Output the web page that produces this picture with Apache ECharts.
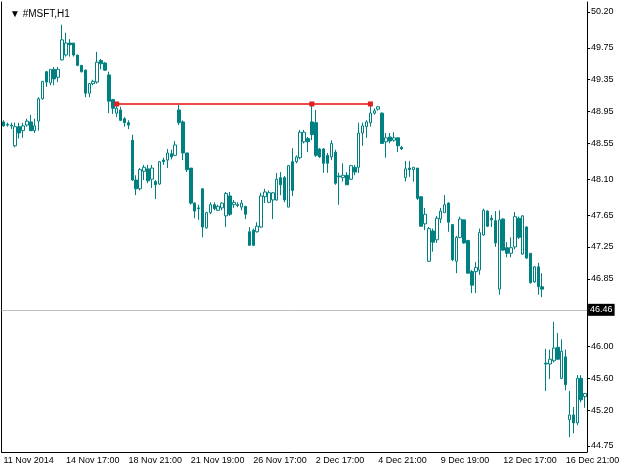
<!DOCTYPE html>
<html><head><meta charset="utf-8">
<script src="https://cdn.jsdelivr.net/npm/echarts@6/dist/echarts.min.js"></script>
<style>html,body{margin:0;padding:0;background:#fff}#c{width:625px;height:469px}</style>
</head><body><div id="c"></div>
<script>
// Hourly OHLC of #MSFT (H1)
const opens = [
48.82,48.79,48.78,48.52,48.76,48.71,48.78,48.82,48.71,48.83,
49.11,49.45,49.31,49.48,49.38,49.60,49.66,49.81,49.81,49.66,
49.53,49.47,49.18,49.30,49.32,49.59,49.56,49.41,49.10,48.93,
48.97,48.86,48.81,48.59,48.09,47.98,48.20,48.23,48.10,48.07,
48.04,48.34,48.34,48.42,48.40,48.97,48.82,48.43,48.24,47.80,
47.74,47.98,47.49,47.68,47.78,47.71,47.74,47.64,47.89,47.78,
47.78,47.75,47.76,47.44,47.46,47.44,47.50,47.88,47.81,47.84,
47.84,48.12,48.12,47.75,48.32,48.32,48.37,48.57,48.61,48.82,
48.81,48.48,48.48,48.40,48.38,48.44,48.14,48.12,48.15,48.10,
48.25,48.25,48.68,48.76,48.81,48.93,48.98,48.93,48.57,48.63,
48.59,48.62,48.50,48.12,48.24,48.22,48.24,47.88,47.54,47.07,
47.45,47.34,47.60,47.68,47.80,47.53,47.07,47.37,47.59,47.33,
46.94,46.94,46.96,47.40,47.70,47.61,47.58,46.72,47.60,47.24,
47.17,47.25,47.61,47.16,47.50,47.17,46.81,47.00,46.75,45.79,
45.78,45.82,45.99,45.60,45.87,45.08,45.14,45.04,45.60,45.37];
const closes = [
48.77,48.78,48.77,48.76,48.68,48.77,48.83,48.71,48.77,49.11,
49.33,49.32,49.48,49.36,49.48,49.85,49.81,49.79,49.66,49.53,
49.45,49.18,49.30,49.33,49.57,49.55,49.47,49.08,48.99,48.99,
48.84,48.81,48.78,48.09,47.98,48.22,48.25,48.08,48.24,48.03,
48.32,48.32,48.43,48.38,48.53,48.81,48.43,48.22,47.80,47.70,
47.73,47.50,47.68,47.78,47.73,47.76,47.80,47.92,47.66,47.81,
47.77,47.80,47.66,47.27,47.27,47.51,47.89,47.94,47.93,47.93,
48.10,48.03,47.84,48.27,47.96,48.38,48.69,48.69,48.57,48.66,
48.40,48.38,48.30,48.30,48.55,48.05,48.13,48.15,48.03,48.27,
48.19,48.68,48.77,48.82,48.93,48.96,49.01,48.55,48.62,48.58,
48.62,48.52,48.48,48.23,48.22,48.25,47.86,47.51,47.66,47.48,
47.31,47.61,47.70,47.78,47.56,47.09,47.37,47.60,47.30,46.92,
46.77,46.99,47.43,47.71,47.51,47.59,47.30,47.59,47.21,47.17,
47.24,47.63,47.37,47.64,47.11,46.80,47.00,46.75,46.72,45.78,
45.84,45.98,45.84,45.94,45.52,45.14,45.04,45.60,45.33,45.41];
const lows = [
48.76,48.76,48.73,48.50,48.61,48.62,48.76,48.71,48.68,48.71,
49.10,49.26,49.28,49.28,49.32,49.59,49.64,49.64,49.64,49.52,
49.44,49.13,49.13,49.28,49.30,49.48,49.46,48.93,48.92,48.88,
48.83,48.76,48.73,48.08,47.90,47.96,48.09,48.05,47.99,47.85,
48.03,48.28,48.24,48.35,48.39,48.78,48.34,48.19,47.78,47.61,
47.59,47.37,47.48,47.66,47.71,47.70,47.71,47.50,47.64,47.74,
47.75,47.71,47.60,47.27,47.26,47.43,47.49,47.80,47.80,47.60,
47.83,47.90,47.81,47.75,47.89,48.30,48.35,48.55,48.44,48.59,
48.38,48.37,48.18,48.18,48.34,48.03,47.78,48.07,48.03,48.09,
48.15,48.18,48.52,48.62,48.76,48.91,48.96,48.55,48.37,48.55,
48.57,48.44,48.47,48.07,48.13,48.07,47.84,47.50,47.46,47.06,
47.19,47.30,47.55,47.68,47.44,47.07,46.92,47.36,47.29,46.92,
46.67,46.67,46.90,47.39,47.50,47.50,47.25,46.65,47.20,47.12,
47.12,47.22,47.35,47.15,47.10,46.79,46.80,46.65,46.62,45.44,
45.59,45.80,45.83,45.59,45.45,44.86,44.91,45.01,45.30,45.23];
const highs = [
48.84,48.81,48.81,48.81,48.81,48.81,48.86,48.91,48.86,49.13,
49.33,49.46,49.48,49.51,49.51,50.04,49.94,49.86,49.81,49.66,
49.53,49.48,49.31,49.35,49.70,49.61,49.57,49.45,49.11,49.05,
49.01,48.88,48.84,48.66,48.15,48.24,48.28,48.28,48.28,48.09,
48.33,48.37,48.48,48.47,48.58,49.05,48.84,48.43,48.24,47.81,
47.78,47.98,47.69,47.81,47.81,47.78,47.81,47.94,47.94,47.84,
47.81,47.84,47.76,47.50,47.48,47.56,47.93,47.98,47.96,47.94,
48.18,48.19,48.14,48.28,48.49,48.40,48.72,48.72,48.63,49.05,
48.97,48.49,48.49,48.43,48.59,48.47,48.18,48.30,48.19,48.28,
48.28,48.81,48.81,48.84,49.05,48.99,49.02,48.94,48.68,48.68,
48.69,48.62,48.52,48.33,48.33,48.25,48.24,47.89,47.74,47.50,
47.48,47.64,47.74,47.90,47.81,47.53,47.39,47.63,47.59,47.34,
46.96,47.06,47.48,47.73,47.71,47.65,47.70,47.71,47.61,47.31,
47.37,47.69,47.63,47.65,47.51,47.17,47.01,47.05,46.92,45.97,
45.96,46.31,46.17,46.09,45.96,45.44,45.24,45.64,45.64,45.41];

const tickLabels = ['11 Nov 2014','14 Nov 17:00','18 Nov 21:00','21 Nov 19:00','26 Nov 17:00',
                    '2 Dec 17:00','4 Dec 21:00','9 Dec 19:00','12 Dec 17:00','16 Dec 21:00'];
const labelEvery = 16;
const priceTicks = [50.20,49.75,49.35,48.95,48.55,48.10,47.65,47.25,46.85,46.45,46.00,45.60,45.20,44.75];
const currentPrice = 46.46;
const levelBars = [29, 79, 94];
const levelPrice = 49.045;
const yMin = 44.6747, yMax = 50.3256;

const categories = opens.map((_, i) => String(i));
const candles = opens.map((o, i) => [o, closes[i], lows[i], highs[i]]);
const font = '"Liberation Sans", Arial, sans-serif';
const teal = '#008080';

const chart = echarts.init(document.getElementById('c'), null, {renderer: 'canvas'});
chart.setOption({
  animation: false,
  backgroundColor: '#fff',
  title: {
    text: '▼ #MSFT,H1', left: 5, top: 4,
    textStyle: {fontFamily: font, fontSize: 10, fontWeight: 'normal', color: '#000'}
  },
  grid: {left: 1.5, top: 2, width: 585.6, height: 450},
  xAxis: {
    type: 'category', data: categories, boundaryGap: true,
    axisLine: {lineStyle: {color: '#000', width: 1}},
    axisTick: {alignWithLabel: true, interval: labelEvery - 1, length: 4, lineStyle: {color: '#000'}},
    axisLabel: {
      interval: labelEvery - 1, align: 'left', margin: 4,
      fontFamily: font, fontSize: 9, color: '#000',
      formatter: (v) => { const k = Number(v) / labelEvery; return tickLabels[k] !== undefined ? tickLabels[k] : ''; }
    },
    splitLine: {show: false}
  },
  yAxis: [{
    type: 'value', position: 'right', min: yMin, max: yMax,
    axisLine: {show: true, lineStyle: {color: '#000', width: 1}},
    axisTick: {show: true, length: 3, customValues: priceTicks, lineStyle: {color: '#000'}},
    axisLabel: {customValues: priceTicks, margin: 4, formatter: (v) => v.toFixed(2),
      fontFamily: font, fontSize: 9, color: '#000'},
    splitLine: {show: false}
  }, {
    type: 'value', position: 'left', min: yMin, max: yMax,
    axisLine: {show: true, lineStyle: {color: '#000', width: 1}},
    axisTick: {show: false}, axisLabel: {show: false}, splitLine: {show: false}
  }],
  series: [{
    type: 'candlestick', data: candles, yAxisIndex: 0, barWidth: 3,
    itemStyle: {color: '#ffffff', color0: teal, borderColor: teal, borderColor0: teal, borderWidth: 1},
    markLine: {
      silent: true, symbol: ['none', 'none'], animation: false,
      lineStyle: {color: '#c0c0c0', width: 1, type: 'solid'},
      label: {position: 'end', distance: 1, formatter: currentPrice.toFixed(2),
        backgroundColor: '#000', color: '#fff', fontFamily: font, fontSize: 9, padding: [2, 2, 1, 2]},
      data: [{yAxis: currentPrice}]
    }
  }, {
    type: 'line', yAxisIndex: 0, z: 5,
    data: levelBars.map(i => [i, levelPrice]),
    showSymbol: true, showAllSymbol: true,
    symbol: 'rect', symbolSize: 5,
    lineStyle: {color: '#f04848', width: 2},
    itemStyle: {color: '#e02020', opacity: 1}
  }]
});
</script>
</body></html>
